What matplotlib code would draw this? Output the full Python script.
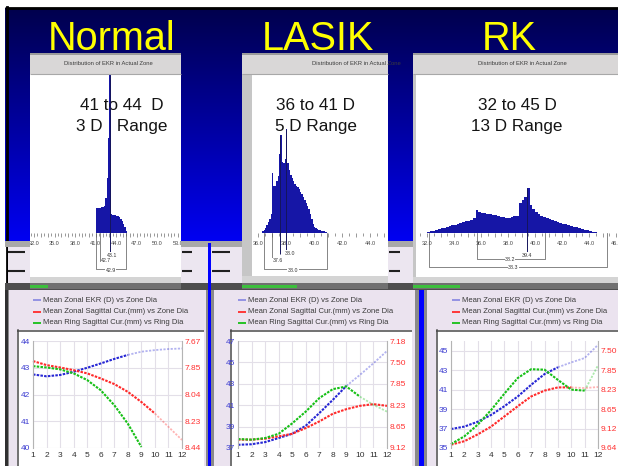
import matplotlib.pyplot as plt
import numpy as np
from matplotlib.patches import Rectangle

plt.rcParams['font.family'] = ['Liberation Sans', 'DejaVu Sans']

W, H = 618, 466

titles = ['Normal', 'LASIK', 'RK']
range_text = [('41 to 44  D', '3 D   Range'),
              ('36 to 41 D', '5 D Range'),
              ('32 to 45 D', '13 D Range')]

# EKR distribution in the actual zone, bin heights in % of plot height
normal_start, normal_step = 41.0, 0.2
normal_counts = [16, 16, 16, 16, 16.5, 16.5, 17,
                 22, 35, 60, 100,
                 12, 11.5, 11.5, 11.5, 11, 10.5, 10, 9, 7.5, 6, 4, 1.5]

lasik_start, lasik_step = 36.3, 0.1
lasik_counts = [1, 2, 3, 5, 7, 9, 12, 38, 30, 30,
                33, 36, 50, 62, 45, 44, 47, 66, 44, 40,
                37, 35, 33, 31, 30, 29, 28, 26, 25, 23,
                21, 19, 17, 15, 12, 9, 6, 4, 3, 2.5,
                2, 1.8, 1.5, 1.2, 1, 0.6]

rk_start, rk_step = 32.0, 0.2
rk_counts = [0.5, 1, 1.5, 2, 2.5, 3, 3.3, 3.8, 4.3, 4.8,
             5.2, 5.7, 6.2, 6.8, 7.3, 7.9, 8.5, 9.2, 14.5, 13.5,
             12.8, 12.4, 12, 11.8, 11.5, 11.2, 10.8, 10.4, 10, 9.7,
             9.6, 10, 10.5, 11, 19, 21, 23, 28.5, 18, 15,
             13, 12, 11, 10.2, 9.5, 9, 8.3, 7.7, 7.1, 6.6,
             6, 5.5, 5, 4.5, 4, 3.5, 3, 2.5, 2, 1.6,
             1.2, 0.8, 0.5, 0.3]

normal_ticks = [32, 35, 38, 41, 44, 47, 50, 53]
lasik_ticks = [36, 38, 40, 42, 44, 46]
rk_ticks = [32, 34, 36, 38, 40, 42, 44, 46]

# statistic markers under the histograms
normal_marks = [43.1]
normal_brackets = [(41.6, 43.1, -17.5, False), (41.0, 45.4, -22.5, True)]
normal_labels = [('43.1', 43.4, -14), ('42.7', 42.5, -17.5), ('42.9', 43.2, -24)]

lasik_marks = [37.6, 38.0]
lasik_brackets = [(37.0, 37.6, -17.5, False), (36.43, 40.93, -22.5, True)]
lasik_labels = [('38.0', 38.3, -12.7), ('37.6', 37.4, -17.5), ('38.0', 38.5, -23.5)]

rk_marks = [39.4]
rk_brackets = [(35.7, 40.74, -16.5, True), (32.15, 45.3, -21.5, True)]
rk_labels = [('39.4', 39.4, -14), ('38.2', 38.15, -16.5), ('38.3', 38.4, -22)]

# zonal curves against zone diameter (mm)
zone = [1, 2, 3, 4, 5, 6, 7, 8, 9, 10, 11, 12]
normal_ekr = [42.75, 42.68, 42.73, 42.85, 43.0, 43.16, 43.33, 43.48, 43.6, 43.66, 43.7, 43.72]
normal_sag = [43.25, 43.1, 43.01, 42.91, 42.79, 42.6, 42.39, 42.1, 41.72, 41.29, 40.79, 40.3]
normal_ring = [43.06, 43.01, 42.94, 42.79, 42.54, 42.16, 41.6, 40.91, 40.04]

lasik_ekr = [37.3, 37.35, 37.55, 37.93, 38.33, 39.08, 40.26, 41.5, 42.8, 43.83, 44.92, 46.07]
lasik_sag = [37.78, 37.78, 37.87, 38.09, 38.33, 38.86, 39.48, 40.2, 40.63, 40.94, 41.1, 40.94]
lasik_ring = [37.84, 37.78, 37.93, 38.33, 39.3, 40.4, 41.66, 42.5, 42.75, 41.8, 41.04, 40.4]

rk_ekr = [36.95, 37.2, 37.7, 38.4, 39.3, 40.3, 41.5, 42.6, 43.3, 43.8, 44.25, 45.6]
rk_sag = [35.34, 35.7, 36.4, 37.2, 38.25, 39.3, 40.3, 40.9, 41.23, 41.23, 41.16, 41.27]
rk_ring = [35.4, 36.2, 37.4, 38.9, 40.6, 42.2, 43.1, 43.05, 42.0, 41.0, 40.9, 43.5]

normal_yticks = [40, 41, 42, 43, 44]
normal_mm = ['8.44', '8.23', '8.04', '7.85', '7.67']
lasik_yticks = [37, 39, 41, 43, 45, 47]
lasik_mm = ['9.12', '8.65', '8.23', '7.85', '7.50', '7.18']
rk_yticks = [35, 37, 39, 41, 43, 45]
rk_mm = ['9.64', '9.12', '8.65', '8.23', '7.85', '7.50']

legend_names = ['Mean Zonal EKR (D) vs Zone Dia',
                'Mean Zonal Sagittal Cur.(mm) vs Zone Dia',
                'Mean Ring Sagittal Cur.(mm) vs Ring Dia']
BLUE, RED, GREEN = '#2626d4', '#ff2a2a', '#16c016'
legend_colors = ['#8c8ce2', RED, GREEN]


fig = plt.figure(figsize=(W / 100, H / 100), dpi=100)
bg = fig.add_axes([0, 0, 1, 1])
bg.set_xlim(0, W)
bg.set_ylim(H, 0)
bg.axis('off')


def box(x0, y0, x1, y1, **kw):
    r = Rectangle((x0, y0), x1 - x0, y1 - y0, lw=0, **kw)
    bg.add_patch(r)
    return r


def hline(x0, x1, y, color, lw, z=4):
    bg.plot([x0, x1], [y, y], color=color, lw=lw, solid_capstyle='butt', zorder=z)


def px_axes(x0, y0, x1, y1):
    return fig.add_axes([x0 / W, 1 - y1 / H, (x1 - x0) / W, (y1 - y0) / H])


# slide background
t = np.linspace(0, 1, 256)
img = np.zeros((256, 1, 3))
img[:, 0, 2] = 0.30 + 0.66 * t
bg.imshow(img, extent=[0, W, 245, 8], aspect='auto', zorder=0)
box(0, 0, W, 7, fc='white', zorder=1)
box(0, 0, 5, H, fc='white', zorder=1)
hline(5, W, 8, 'black', 2.0, z=1)
bg.plot([6.5, 6.5], [7, H], color='black', lw=2.0, zorder=1)

# strip behind the windows
box(5, 241, W, 247, fc='#a8a8a8', zorder=1)
box(8, 247, W, 284, fc='#ece6f0', zorder=1)
for xa, xb in [(8, 25), (182, 192), (212, 230), (389, 400)]:
    hline(xa, xb, 252, '#202020', 1.5, z=1)
    hline(xa, xb, 271, '#202020', 1.5, z=1)
box(5, 283, W, 290, fc='#4e4e4e', zorder=1)

# lower window frames
box(5, 290, W, H, fc='#8a8a8a', zorder=1)
box(5, 290, 8, H, fc='#303030', zorder=1)
box(9, 290, 206, H, fc='#ebe3ef', zorder=1)
box(214, 290, 415, H, fc='#ebe3ef', zorder=1)
box(427, 290, W, H, fc='#ebe3ef', zorder=1)
box(208, 243, 210.5, H, fc='#0000ff', zorder=2)
box(419, 290, 424, H, fc='#0000ff', zorder=2)

for name, cx in zip(titles, [112, 317.5, 509.5]):
    bg.text(cx, 50, name, fontsize=28.5, color='#ffff00', ha='center',
            va='baseline', zorder=5)


def hist_window(win, white, green_x, scale, start, step, counts, tick_vals,
                marks, brackets, labels, title_x, texts, text_x):
    wx0, wx1 = win
    x0, y0, x1, y1 = white
    d_ref, px_ref, ppd = scale
    box(wx0, 53, wx1, 289, fc='#c6c6c6', zorder=3)
    bar = box(wx0, 53, wx1, 74, fc='#d9d7d7', zorder=3)
    hline(wx0, wx1, 54, '#9a9a9a', 1.4)
    hline(wx0, wx1, 73.5, '#a8a8a8', 0.8)
    box(x0, y0, x1, y1, fc='white', zorder=3)
    box(wx0, y1, wx1, 283, fc='#d4d4d4', zorder=3)
    box(wx0, 283, wx1, 289, fc='#707070', zorder=3)
    box(wx0, 285, green_x, 288, fc='#3cc03c', zorder=4)
    tt = bg.text(title_x, 63.5, 'Distribution of EKR in Actual Zone', fontsize=4.2,
                 color='#3c3c3c', ha='center', va='center', zorder=4)
    tt.set_clip_path(bar)

    ax = px_axes(x0, y0, x1, y1)
    ax.axis('off')
    ax.set_xlim(d_ref + (x0 - px_ref) / ppd, d_ref + (x1 - px_ref) / ppd)
    ax.set_ylim(-(y1 - 233) / 1.58, (233 - y0) / 1.58)

    edges = start + step * np.arange(len(counts))
    ax.bar(edges, counts, width=step, align='edge', color='#1616a6', lw=0, zorder=2)

    lo, hi = ax.get_xlim()
    minor = np.arange(np.ceil(lo * 2) / 2, hi, 0.5)
    ax.vlines(minor, np.where(minor % 1 == 0, -2.8, -1.8), 0, color='#707070', lw=0.5)
    for v in tick_vals:
        ax.text(v, -6.5, f'{v:.1f}', fontsize=4, color='#454545', ha='center',
                va='center', clip_on=True)

    line1, line2 = texts
    ax.text(text_x, 105, line1, transform=bg.transData, fontsize=12.3,
            color='#141414', ha='center', va='center', zorder=3)
    ax.text(text_x, 126, line2, transform=bg.transData, fontsize=12.3,
            color='#141414', ha='center', va='center', zorder=3)

    for v in marks:
        top = counts[int(np.floor((v - start) / step + 1e-6))]
        ax.vlines(v, -13.5, top, color='#14145c', lw=0.7, zorder=5)
    for a, b, level, closed in brackets:
        xs = [a, a, b, b] if closed else [a, a, b]
        ys = [0, level, level, 0] if closed else [0, level, level]
        ax.plot(xs, ys, color='#555555', lw=0.5, zorder=4)
    for txt, lx, ly in labels:
        ax.text(lx, ly, txt, fontsize=3.8, color='#333333', ha='center', va='center',
                zorder=6, bbox=dict(fc='white', ec='none', pad=0.2))


hist_window((30, 181), (30, 74, 181, 277), 48, (32, 34, 6.85),
            normal_start, normal_step, normal_counts, normal_ticks,
            normal_marks, normal_brackets, normal_labels, 108, range_text[0], 122)
hist_window((242, 388), (252, 75, 388, 276), 297, (36, 258, 14.0),
            lasik_start, lasik_step, lasik_counts, lasik_ticks,
            lasik_marks, lasik_brackets, lasik_labels, 356, range_text[1], 316)
hist_window((413, W), (416, 75, W, 277), 460, (32, 427, 13.5),
            rk_start, rk_step, rk_counts, rk_ticks,
            rk_marks, rk_brackets, rk_labels, 522, range_text[2], 517)


def curve_window(ax_px, box_px, legend_x, ylim, yticks, mm_labels, series):
    bx0, by0, bx1, by1 = box_px
    box(bx0, by0, bx1, by1, fc='white', zorder=3)
    hline(bx0, bx1, by0 + 0.6, '#4a4a4a', 1.1)
    bg.plot([bx0 + 0.6, bx0 + 0.6], [by0, by1], color='#4a4a4a', lw=1.1, zorder=4)
    for i, (name, color) in enumerate(zip(legend_names, legend_colors)):
        y = 300 + i * 11.5
        hline(legend_x, legend_x + 8, y, color, 1.3)
        bg.text(legend_x + 10, y, name, fontsize=5.5, color='#3a3a3a',
                va='center', zorder=4)

    ax = px_axes(*ax_px)
    ax.set_facecolor('none')
    ax.set_xlim(1, 12)
    ax.set_ylim(*ylim)
    ax.set_xticks(zone)
    ax.set_yticks(yticks)
    ax.grid(True, color='#e3dfe8', lw=0.8)
    ax.set_axisbelow(True)
    for side in ['top', 'bottom']:
        ax.spines[side].set_visible(False)
    for side in ['left', 'right']:
        ax.spines[side].set_color('#b4b4b4')
        ax.spines[side].set_linewidth(0.8)
    ax.tick_params(axis='both', length=0, labelsize=6, pad=2.2)
    ax.tick_params(axis='x', colors='#303030', pad=3)
    ax.tick_params(axis='y', labelcolor='#3a3ad0')

    for vals, color, solid in series:
        x = zone[:len(vals)]
        ax.plot(x[:solid], vals[:solid], color=color, lw=1.5, ls=(0, (1.2, 0.6)),
                clip_on=False)
        if solid < len(vals):
            ax.plot(x[solid - 1:], vals[solid - 1:], color=color, lw=1.3,
                    ls=(0, (1.2, 0.8)), alpha=0.35, clip_on=False)

    ax2 = ax.twinx()
    ax2.set_ylim(*ylim)
    ax2.set_yticks(yticks)
    ax2.set_yticklabels(mm_labels)
    ax2.tick_params(length=0, labelsize=6, pad=2.2, labelcolor='#ff3030')
    for s in ax2.spines.values():
        s.set_visible(False)


curve_window((33, 341, 182, 448), (17, 330, 204, H), 33, (40, 44),
             normal_yticks, normal_mm,
             [(normal_ekr, BLUE, 8), (normal_sag, RED, 10), (normal_ring, GREEN, 9)])
curve_window((238, 341, 387, 448), (230, 330, 412, H), 238, (37, 47),
             lasik_yticks, lasik_mm,
             [(lasik_ekr, BLUE, 9), (lasik_sag, RED, 12), (lasik_ring, GREEN, 10)])
curve_window((451, 341, 598, 448), (436, 330, W, H), 452, (35, 46),
             rk_yticks, rk_mm,
             [(rk_ekr, BLUE, 9), (rk_sag, RED, 10), (rk_ring, GREEN, 11)])

fig.savefig('out.png', dpi=100)
